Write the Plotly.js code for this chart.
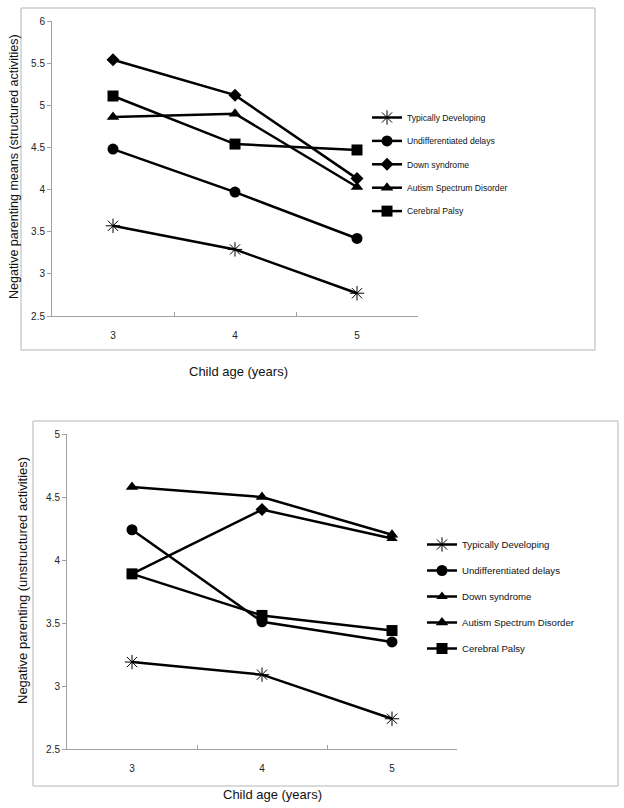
<!DOCTYPE html>
<html>
<head>
<meta charset="utf-8">
<script src="https://cdn.plot.ly/plotly-3.0.1.min.js"></script>
<style>html,body{margin:0;padding:0;background:#fff;}#chart{width:624px;height:808px;}</style>
</head>
<body>
<div id="chart"></div>
<script>
// Categories
const ages = ['3', '4', '5'];
const groups = ['Typically Developing', 'Undifferentiated delays', 'Down syndrome', 'Autism Spectrum Disorder', 'Cerebral Palsy'];

// Structured activities (top chart)
const tdStructured  = [3.57, 3.29, 2.77];
const udStructured  = [4.48, 3.97, 3.42];
const dsStructured  = [5.54, 5.12, 4.13];
const asdStructured = [4.86, 4.90, 4.03];
const cpStructured  = [5.11, 4.54, 4.47];

// Unstructured activities (bottom chart)
const tdUnstructured  = [3.19, 3.09, 2.74];
const udUnstructured  = [4.24, 3.51, 3.35];
const dsUnstructured  = [3.89, 4.40, 4.17];
const asdUnstructured = [4.58, 4.50, 4.20];
const cpUnstructured  = [3.89, 3.56, 3.44];

// Tick values
const yTicksTop = [2.5, 3, 3.5, 4, 4.5, 5, 5.5, 6];
const yTicksBottom = [2.5, 3, 3.5, 4, 4.5, 5];

const W = 624, H = 808;
const px = v => v / W;
const py = v => 1 - v / H;

function mk(symbol, size) {
  if (symbol === 'asterisk-open') {
    return {symbol: symbol, size: size, color: '#000', line: {color: '#000', width: 1}};
  }
  return {symbol: symbol, size: size, color: '#000', line: {width: 0}};
}

const topSeries = [tdStructured, udStructured, dsStructured, asdStructured, cpStructured];
const topSymbols = ['asterisk-open', 'circle', 'diamond', 'triangle-up', 'square'];
const botSeries = [tdUnstructured, udUnstructured, dsUnstructured, asdUnstructured, cpUnstructured];
const botSymbols = ['asterisk-open', 'circle', ['triangle-up', 'diamond', 'triangle-up'], 'triangle-up', 'square'];
const sizes = [12, 11, 10, 11, 11];

const traces = [];
topSeries.forEach((s, i) => {
  traces.push({
    x: ages, y: s, name: groups[i], type: 'scatter', mode: 'lines+markers',
    xaxis: 'x', yaxis: 'y', legend: 'legend', legendgroup: 't' + i,
    line: {color: '#000', width: 2.5}, marker: mk(topSymbols[i], sizes[i])
  });
});
botSeries.forEach((s, i) => {
  traces.push({
    x: ages, y: s, name: groups[i], type: 'scatter', mode: 'lines+markers',
    xaxis: 'x2', yaxis: 'y2', legend: 'legend2', legendgroup: 'b' + i,
    line: {color: '#000', width: 2.5}, marker: mk(botSymbols[i], sizes[i])
  });
});

const tickFont = {family: 'Liberation Sans, Arial, sans-serif', size: 10, color: '#222'};
const titleFont = {family: 'Liberation Sans, Arial, sans-serif', size: 13, color: '#111'};

const xCommon = {
  type: 'category', showgrid: false, zeroline: false, showline: true, linecolor: '#a0a0a0', linewidth: 1,
  ticks: 'inside', tickson: 'boundaries', ticklen: 4, tickcolor: '#a0a0a0', tickfont: tickFont,
  ticklabelstandoff: 10, fixedrange: true
};
const yCommon = {
  showgrid: false, zeroline: false, showline: true, linecolor: '#a0a0a0', linewidth: 1,
  ticks: 'outside', ticklen: 4, tickcolor: '#a0a0a0', tickfont: tickFont, fixedrange: true
};

const layout = {
  width: W, height: H,
  margin: {l: 0, r: 0, t: 0, b: 0},
  paper_bgcolor: '#fff', plot_bgcolor: '#fff',
  showlegend: true,
  font: tickFont,
  xaxis: Object.assign({}, xCommon, {domain: [px(52), px(418)], anchor: 'y', range: [-0.5, 2.5]}),
  yaxis: Object.assign({}, yCommon, {domain: [py(316), py(21)], anchor: 'x', range: [2.5, 6],
    tickvals: yTicksTop, ticktext: yTicksTop.map(String)}),
  xaxis2: Object.assign({}, xCommon, {domain: [px(67), px(457)], anchor: 'y2', range: [-0.5, 2.5]}),
  yaxis2: Object.assign({}, yCommon, {domain: [py(749), py(434)], anchor: 'x2', range: [2.5, 5],
    tickvals: yTicksBottom, ticktext: yTicksBottom.map(String)}),
  legend: {
    x: px(367), y: py(103), xanchor: 'left', yanchor: 'top', bgcolor: 'rgba(0,0,0,0)',
    font: {family: 'Liberation Sans, Arial, sans-serif', size: 8.6, color: '#111'},
    itemwidth: 30, tracegroupgap: 4.4, traceorder: 'grouped'
  },
  legend2: {
    x: px(422), y: py(530), xanchor: 'left', yanchor: 'top', bgcolor: 'rgba(0,0,0,0)',
    font: {family: 'Liberation Sans, Arial, sans-serif', size: 9.6, color: '#111'},
    itemwidth: 30, tracegroupgap: 7, traceorder: 'grouped'
  },
  shapes: [
    {type: 'rect', xref: 'paper', yref: 'paper', x0: px(21), x1: px(595), y0: py(350), y1: py(8),
     line: {color: '#b5b5b5', width: 1}, fillcolor: 'rgba(0,0,0,0)', layer: 'below'},
    {type: 'rect', xref: 'paper', yref: 'paper', x0: px(33), x1: px(618), y0: py(786), y1: py(421),
     line: {color: '#b5b5b5', width: 1}, fillcolor: 'rgba(0,0,0,0)', layer: 'below'}
  ],
  annotations: [
    {text: 'Child age (years)', xref: 'paper', yref: 'paper', x: px(238), y: py(371),
     xanchor: 'center', yanchor: 'middle', showarrow: false, font: titleFont},
    {text: 'Negative parenting means (structured activities)', xref: 'paper', yref: 'paper',
     x: px(14), y: py(167), xanchor: 'center', yanchor: 'middle', textangle: -90, showarrow: false,
     font: Object.assign({}, titleFont, {size: 12.5})},
    {text: 'Child age (years)', xref: 'paper', yref: 'paper', x: px(272), y: py(794),
     xanchor: 'center', yanchor: 'middle', showarrow: false, font: titleFont},
    {text: 'Negative parenting (unstructured activities)', xref: 'paper', yref: 'paper',
     x: px(22), y: py(581), xanchor: 'center', yanchor: 'middle', textangle: -90, showarrow: false,
     font: titleFont}
  ]
};

Plotly.newPlot('chart', traces, layout, {displayModeBar: false, staticPlot: true});
</script>
</body>
</html>
